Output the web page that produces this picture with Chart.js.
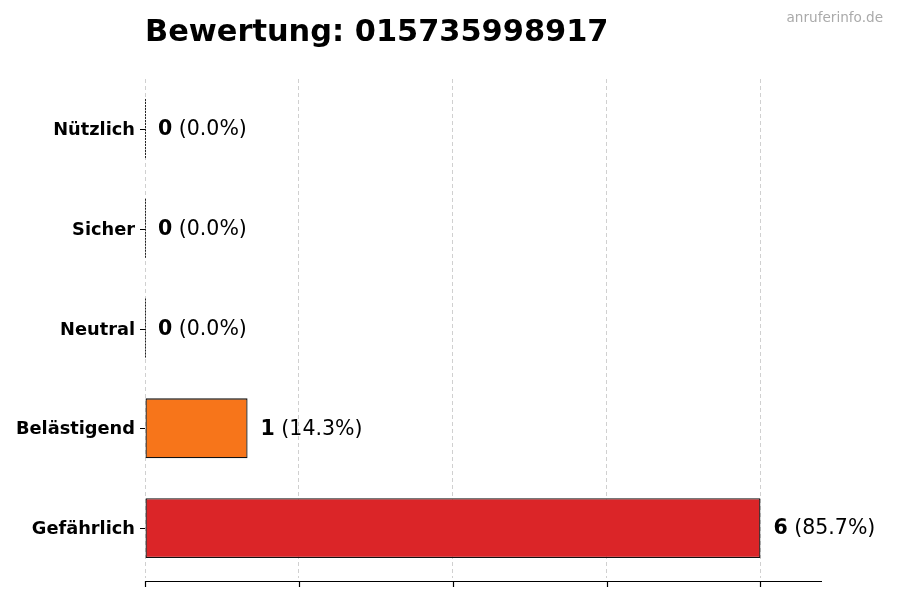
<!DOCTYPE html>
<html><head><meta charset="utf-8">
<script src="https://cdn.jsdelivr.net/npm/chart.js@4/dist/chart.umd.min.js"></script>
<style>html,body{margin:0;padding:0;background:#fff}</style>
</head><body>
<canvas id="c" width="900" height="600" style="width:900px;height:600px"></canvas>
<script>
const categories = ['Nützlich','Sicher','Neutral','Belästigend','Gefährlich'];
const counts = [0,0,0,1,6];
const percents = ['0.0','0.0','0.0','14.3','85.7'];
const barColors = ['#9CA3AF','#22C55E','#3B82F6','#F7751A','#DB2528'];
const xTicks = [0,1.5,3,4.5,6];
const titleText = 'Bewertung: 015735998917';
const watermark = 'anruferinfo.de';
const F = 'DejaVu Sans';

const deco = {
  id:'deco',
  afterDatasetsDraw(chart){
    const ctx = chart.ctx, xs = chart.scales.x, ys = chart.scales.y, ca = chart.chartArea;
    const meta = chart.getDatasetMeta(0);
    ctx.save();
    // zero-bar edges
    meta.data.forEach((el,i)=>{
      if(counts[i]===0){
        const p = el.getProps(['x','y','base','height'],true);
        ctx.strokeStyle='#222';ctx.lineWidth=1;ctx.setLineDash([2,1]);
        ctx.beginPath();ctx.moveTo(Math.round(p.base)+0.5,p.y-p.height/2);ctx.lineTo(Math.round(p.base)+0.5,p.y+p.height/2);ctx.stroke();
        ctx.setLineDash([]);
      }
    });
    // value labels
    meta.data.forEach((el,i)=>{
      const p = el.getProps(['x','y'],true);
      let x = p.x + 13;
      ctx.textBaseline='middle';ctx.textAlign='left';ctx.fillStyle='#000';
      ctx.font='bold 20.5px "'+F+'"';
      const a = String(counts[i]);
      ctx.fillText(a,x,p.y+1);
      x += ctx.measureText(a).width;
      ctx.font='20.5px "'+F+'"';
      ctx.fillText(' ('+percents[i]+'%)',x,p.y+1);
    });
    // bottom spine & ticks
    const yb = ca.bottom + 3;
    ctx.strokeStyle='#000';ctx.lineWidth=1.2;
    ctx.beginPath();ctx.moveTo(ca.left,yb+0.5);ctx.lineTo(ca.right,yb+0.5);ctx.stroke();
    xTicks.forEach(v=>{
      const px = Math.round(xs.getPixelForValue(v))+0.5;
      ctx.beginPath();ctx.moveTo(px,yb);ctx.lineTo(px,yb+6);ctx.stroke();
    });
    // y ticks
    ctx.lineWidth=1;
    categories.forEach((c,i)=>{
      const py = Math.round(ys.getPixelForValue(i))+0.5;
      ctx.beginPath();ctx.moveTo(ca.left-5,py);ctx.lineTo(ca.left,py);ctx.stroke();
    });
    // title
    ctx.textAlign='left';ctx.textBaseline='alphabetic';
    ctx.font='bold 30.4px "'+F+'"';ctx.fillStyle='#000';
    ctx.fillText(titleText,145,41);
    ctx.font='13.6px "'+F+'"';ctx.fillStyle='#aaaaaa';ctx.textAlign='right';
    ctx.fillText(watermark,883,22);
    ctx.restore();
  }
};

new Chart(document.getElementById('c'),{
  type:'bar',
  data:{labels:categories,datasets:[{data:counts,backgroundColor:barColors,borderColor:'#111',borderWidth:1.3,borderSkipped:false,barPercentage:0.6,categoryPercentage:1.0}]},
  options:{
    indexAxis:'y',responsive:false,animation:false,devicePixelRatio:1,
    layout:{padding:{top:79,right:78,bottom:0,left:0}},
    plugins:{legend:{display:false},tooltip:{enabled:false},title:{display:false}},
    scales:{
      x:{min:0,max:6.6,afterBuildTicks:s=>{s.ticks=xTicks.map(v=>({value:v}));},
        ticks:{display:false},grid:{color:'#d0d0d0',lineWidth:1,drawTicks:false},
        border:{display:false,dash:[4,3]},afterFit:s=>{s.height=22;}},
      y:{ticks:{color:'#000',font:{family:F,weight:'bold',size:17.8},padding:2,labelOffset:1.5},
        grid:{display:false},border:{display:false},afterFit:s=>{s.width=145;}}
    }
  },
  plugins:[deco]
});
</script>
</body></html>
